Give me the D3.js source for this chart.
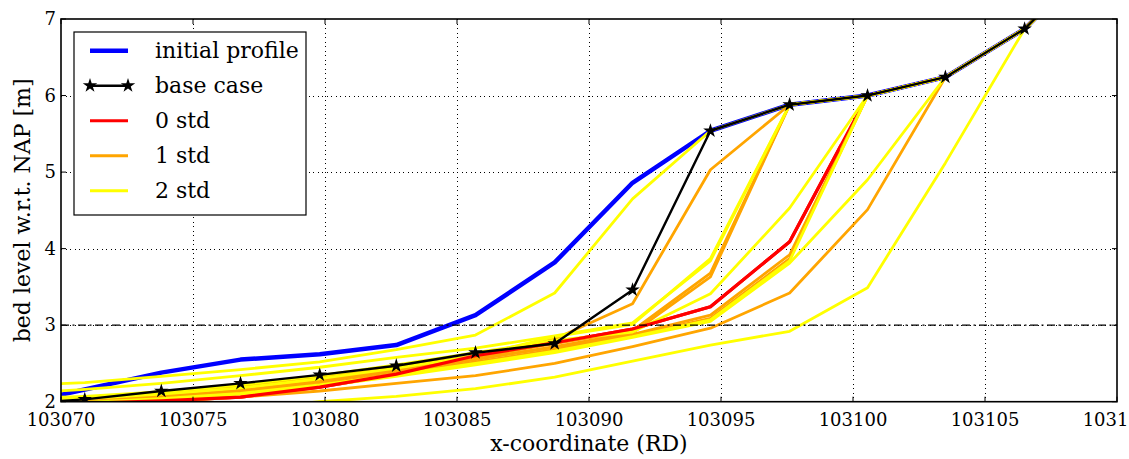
<!DOCTYPE html>
<html>
<head>
<meta charset="utf-8">
<title>bed level profiles</title>
<script src="https://d3js.org/d3.v7.min.js"></script>
<style>
  body { margin: 0; background: #fff; }
  svg text { font-family: "DejaVu Serif", serif; fill: #000; }
  .grid line { stroke: #000; stroke-width: 1; stroke-dasharray: 1,3.5; shape-rendering: crispEdges; }
</style>
</head>
<body>
<svg id="chart" width="1129" height="459"></svg>
<script>
// profile x positions (RD) and bed levels (m NAP)
var xCoords = [103067.9, 103070.9, 103073.8, 103076.8, 103079.8, 103082.7, 103085.7, 103088.7,
               103091.65, 103094.6, 103097.6, 103100.55, 103103.5, 103106.5, 103109.5];

var initialProfile = [1.93, 2.16, 2.38, 2.55, 2.62, 2.74, 3.13, 3.82, 4.86, 5.54, 5.88, 6.00, 6.24, 6.87, 7.90];
var baseCase       = [1.96, 2.03, 2.14, 2.24, 2.35, 2.47, 2.64, 2.76, 3.46, 5.54, 5.88, 6.00, 6.24, 6.87, 7.90];
var std0           = [1.95, 1.98, 2.01, 2.06, 2.19, 2.36, 2.60, 2.77, 2.95, 3.24, 4.09, 6.00, 6.24, 6.87, 7.90];

var std1 = [
  [2.00, 2.04, 2.10, 2.20, 2.32, 2.45, 2.60, 2.82, 3.28, 5.03, 5.88, 6.00, 6.24, 6.87, 7.90],
  [1.98, 2.02, 2.07, 2.14, 2.26, 2.40, 2.55, 2.72, 2.90, 3.63, 5.88, 6.00, 6.24, 6.87, 7.90],
  [1.97, 2.00, 2.05, 2.12, 2.23, 2.37, 2.52, 2.68, 2.86, 3.09, 3.87, 6.00, 6.24, 6.87, 7.90],
  [1.99, 2.02, 2.07, 2.15, 2.27, 2.41, 2.56, 2.71, 2.88, 3.13, 3.92, 6.00, 6.24, 6.87, 7.90],
  [1.90, 1.95, 2.00, 2.06, 2.14, 2.24, 2.34, 2.50, 2.72, 2.96, 3.42, 4.51, 6.24, 6.87, 7.90],
  [2.01, 2.05, 2.11, 2.19, 2.30, 2.43, 2.58, 2.76, 2.93, 3.68, 5.88, 6.00, 6.24, 6.87, 7.90]
];

var std2 = [
  [2.20, 2.25, 2.33, 2.42, 2.52, 2.68, 2.87, 3.42, 4.65, 5.54, 5.88, 6.00, 6.24, 6.87, 7.90],
  [2.00, 2.04, 2.10, 2.18, 2.30, 2.44, 2.60, 2.85, 3.01, 3.87, 5.88, 6.00, 6.24, 6.87, 7.90],
  [2.03, 2.07, 2.13, 2.22, 2.34, 2.48, 2.64, 2.80, 2.91, 3.41, 4.53, 6.00, 6.24, 6.87, 7.90],
  [1.95, 1.98, 2.03, 2.10, 2.20, 2.33, 2.48, 2.64, 2.84, 3.05, 3.81, 4.90, 6.24, 6.87, 7.90],
  [1.60, 1.70, 1.80, 1.90, 2.00, 2.07, 2.17, 2.32, 2.53, 2.74, 2.92, 3.49, 5.12, 6.87, 7.90],
  [2.10, 2.16, 2.24, 2.34, 2.45, 2.58, 2.70, 2.86, 3.03, 3.84, 5.88, 6.00, 6.24, 6.87, 7.90],
  [1.96, 1.99, 2.04, 2.11, 2.22, 2.35, 2.50, 2.66, 2.85, 3.07, 3.84, 6.00, 6.24, 6.87, 7.90]
];

var xTicks = [103070, 103075, 103080, 103085, 103090, 103095, 103100, 103105, 103110];
var yTicks = [2, 3, 4, 5, 6, 7];
var thresholdLevel = 3;

var legendItems = [
  {label: "initial profile", color: "#0000ff", width: 4.5, star: false},
  {label: "base case",       color: "#000000", width: 2.5, star: true},
  {label: "0 std",           color: "#ff0000", width: 3,   star: false},
  {label: "1 std",           color: "#ffa500", width: 3,   star: false},
  {label: "2 std",           color: "#ffff00", width: 3,   star: false}
];

// plot box
var box = {left: 61, right: 1117, top: 19, bottom: 401.7};

var svg = d3.select("#chart");

var x = d3.scaleLinear().domain([103070, 103110]).range([box.left, box.right]);
var y = d3.scaleLinear().domain([2, 7]).range([box.bottom, box.top]);

var defs = svg.append("defs");
defs.append("clipPath").attr("id", "clip")
  .append("rect")
    .attr("x", box.left).attr("y", box.top)
    .attr("width", box.right - box.left).attr("height", box.bottom - box.top);
// the red run is redrawn on top only where it runs below the initial profile
defs.append("clipPath").attr("id", "clipRed")
  .append("rect")
    .attr("x", box.left).attr("y", box.top)
    .attr("width", x(103099.5) - box.left).attr("height", box.bottom - box.top);

// grid
var grid = svg.append("g").attr("class", "grid");
grid.selectAll(".gx").data(xTicks.slice(1, -1)).enter().append("line")
  .attr("x1", function(d) { return Math.round(x(d)) + 0.5; }).attr("x2", function(d) { return Math.round(x(d)) + 0.5; })
  .attr("y1", box.top).attr("y2", box.bottom);
grid.selectAll(".gy").data(yTicks.slice(1, -1)).enter().append("line")
  .attr("y1", function(d) { return Math.round(y(d)) + 0.5; }).attr("y2", function(d) { return Math.round(y(d)) + 0.5; })
  .attr("x1", box.left).attr("x2", box.right);

var line = d3.line()
  .x(function(d, i) { return x(xCoords[i]); })
  .y(function(d) { return y(d); });

var plot = svg.append("g").attr("clip-path", "url(#clip)");

plot.append("path").datum(initialProfile)
  .attr("d", line).attr("fill", "none")
  .attr("stroke", "#0000ff").attr("stroke-width", 4.5).attr("stroke-linejoin", "round");

plot.append("path").datum(std0)
  .attr("d", line).attr("fill", "none")
  .attr("stroke", "#ff0000").attr("stroke-width", 3.2).attr("stroke-linejoin", "round");

plot.selectAll(".s1").data(std1).enter().append("path")
  .attr("d", line).attr("fill", "none")
  .attr("stroke", "#ffa500").attr("stroke-width", 2.8).attr("stroke-linejoin", "round");

plot.selectAll(".s2").data(std2).enter().append("path")
  .attr("d", line).attr("fill", "none")
  .attr("stroke", "#ffff00").attr("stroke-width", 2.8).attr("stroke-linejoin", "round");

plot.append("g").attr("clip-path", "url(#clipRed)")
  .append("path").datum(std0)
  .attr("d", line).attr("fill", "none")
  .attr("stroke", "#ff0000").attr("stroke-width", 3.2).attr("stroke-linejoin", "round");

// threshold line
svg.append("line")
  .attr("x1", box.left).attr("x2", box.right)
  .attr("y1", y(thresholdLevel)).attr("y2", y(thresholdLevel))
  .attr("stroke", "#000").attr("stroke-width", 1.3)
  .attr("stroke-dasharray", "8,3.5,2,3.5");

plot.append("path").datum(baseCase)
  .attr("d", line).attr("fill", "none")
  .attr("stroke", "#000").attr("stroke-width", 2.4).attr("stroke-linejoin", "round");

var star = d3.symbol().type(d3.symbolStar).size(65);
plot.selectAll(".star").data(baseCase).enter().append("path")
  .attr("d", star)
  .attr("transform", function(d, i) { return "translate(" + x(xCoords[i]) + "," + y(d) + ")"; })
  .attr("fill", "#000");

// frame and ticks on all four sides
svg.append("rect")
  .attr("x", box.left).attr("y", box.top)
  .attr("width", box.right - box.left).attr("height", box.bottom - box.top)
  .attr("fill", "none").attr("stroke", "#000").attr("stroke-width", 1.6);

var ticks = svg.append("g").attr("stroke", "#000").attr("stroke-width", 1);
xTicks.forEach(function(t) {
  ticks.append("line").attr("x1", x(t)).attr("x2", x(t)).attr("y1", box.bottom).attr("y2", box.bottom - 5);
  ticks.append("line").attr("x1", x(t)).attr("x2", x(t)).attr("y1", box.top).attr("y2", box.top + 5);
});
yTicks.forEach(function(t) {
  ticks.append("line").attr("x1", box.left).attr("x2", box.left + 5).attr("y1", y(t)).attr("y2", y(t));
  ticks.append("line").attr("x1", box.right).attr("x2", box.right - 5).attr("y1", y(t)).attr("y2", y(t));
});

svg.selectAll(".xl").data(xTicks).enter().append("text")
  .attr("x", function(d) { return x(d); }).attr("y", 426)
  .attr("text-anchor", "middle").style("font-size", "18px")
  .text(function(d) { return d; });

svg.selectAll(".yl").data(yTicks).enter().append("text")
  .attr("x", 56).attr("y", function(d) { return y(d) + 6; })
  .attr("text-anchor", "end").style("font-size", "18px")
  .text(function(d) { return d; });

svg.append("text")
  .attr("x", (box.left + box.right) / 2).attr("y", 451)
  .attr("text-anchor", "middle").style("font-size", "22px")
  .text("x-coordinate (RD)");

svg.append("text")
  .attr("transform", "translate(30," + ((box.top + box.bottom) / 2) + ") rotate(-90)")
  .attr("text-anchor", "middle").style("font-size", "22px")
  .text("bed level w.r.t. NAP [m]");

// legend
var legend = svg.append("g");
legend.append("rect")
  .attr("x", 74).attr("y", 32).attr("width", 232).attr("height", 183)
  .attr("fill", "#fff").attr("stroke", "#000").attr("stroke-width", 1.2);

var rows = legend.selectAll(".row").data(legendItems).enter().append("g")
  .attr("transform", function(d, i) { return "translate(0," + (50.7 + i * 35) + ")"; });

rows.append("line")
  .attr("x1", 90).attr("x2", 128).attr("y1", 0).attr("y2", 0)
  .attr("stroke", function(d) { return d.color; })
  .attr("stroke-width", function(d) { return d.width; });

rows.filter(function(d) { return d.star; }).selectAll(".ls").data([90, 128]).enter().append("path")
  .attr("d", star)
  .attr("transform", function(d) { return "translate(" + d + ",0)"; })
  .attr("fill", "#000");

rows.append("text")
  .attr("x", 155).attr("y", 7.5)
  .style("font-size", "22px")
  .text(function(d) { return d.label; });
</script>
</body>
</html>
